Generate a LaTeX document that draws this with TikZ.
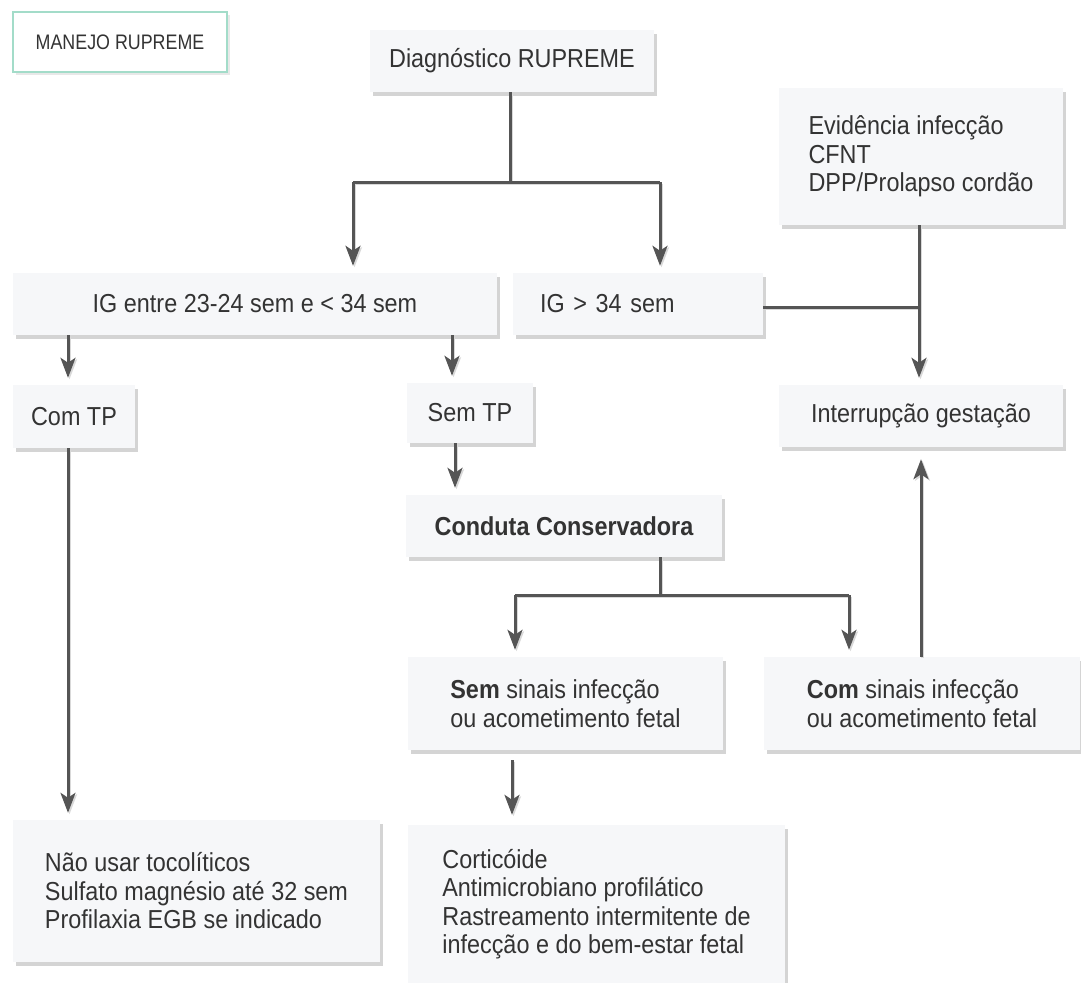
\documentclass[tikz,border=0pt]{standalone}
\usepackage{fontspec}
\setmainfont[FakeStretch=0.9]{Liberation Sans}
\newfontfamily\titlefont[FakeStretch=0.85]{Liberation Sans}
\usetikzlibrary{arrows.meta,shadows}
\definecolor{boxfill}{HTML}{F6F7F9}
\definecolor{txt}{HTML}{333333}
\definecolor{ln}{HTML}{555555}
\definecolor{teal}{HTML}{A3DCC9}
\tikzset{
  box/.style={fill=boxfill, draw=none, inner sep=0pt, text=txt,
    font=\fontsize{26}{28.5}\selectfont,
    drop shadow={shadow xshift=3pt, shadow yshift=-4pt, opacity=0.28, fill=black!60}},
  titlebox/.style={fill=white, draw=teal, line width=1.5pt, inner sep=0pt, text=txt,
    font=\titlefont\fontsize{21}{24}\selectfont,
    drop shadow={shadow xshift=3pt, shadow yshift=-3pt, opacity=0.15, fill=black!60}},
  conn/.style={draw=ln, line width=3pt,
    preaction={draw=black!15, line width=3pt, transform canvas={xshift=1.5pt, yshift=-1.5pt}}},
  arr/.style={conn, -{Stealth[length=20pt,width=15pt,inset=5pt]}, shorten >=7pt},
}
\begin{document}
\begin{tikzpicture}[x=1pt,y=-1pt]
\useasboundingbox (0,0) rectangle (1081,982);
% boxes
\node[titlebox, minimum width=214, minimum height=60] (title) at (120,42) {MANEJO RUPREME};
\node[box, minimum width=284, minimum height=62] (diag) at (512,61) {Diagnóstico RUPREME};
\node[box, minimum width=284, minimum height=137, align=left] (evid) at (921,156.5) {Evidência infecção\\CFNT\\DPP/Prolapso cordão};
\node[box, minimum width=484, minimum height=62] (igA) at (255,304) {IG entre 23-24 sem e < 34 sem};
\node[box, minimum width=250, minimum height=62, text width=250, align=left] (igB) at (638,304) {\hspace*{27pt}IG > 34 sem};
\node[box, minimum width=122, minimum height=63] (comtp) at (74,416.5) {Com TP};
\node[box, minimum width=126, minimum height=60] (semtp) at (470,413) {Sem TP};
\node[box, minimum width=284, minimum height=62] (interr) at (921,416) {Interrupção gestação};
\node[box, minimum width=316, minimum height=62] (conduta) at (564,526) {\bfseries Conduta Conservadora};
\node[box, minimum width=315, minimum height=93, align=left] (semsin) at (565.5,703.5) {\textbf{Sem} sinais infecção\\ou acometimento fetal};
\node[box, minimum width=316, minimum height=93, align=left] (comsin) at (922,703.5) {\textbf{Com} sinais infecção\\ou acometimento fetal};
\node[box, minimum width=367, minimum height=142, align=left] (naousar) at (196.5,891) {Não usar tocolíticos\\Sulfato magnésio até 32 sem\\Profilaxia EGB se indicado};
\node[box, minimum width=377, minimum height=158, align=left] (cort) at (596.5,904) {Corticóide\\Antimicrobiano profilático\\Rastreamento intermitente de\\infecção e do bem-estar fetal};
% junction coordinates
\coordinate (j1) at (510,182);
\coordinate (b1) at (353,182);
\coordinate (b2) at (660,182);
\coordinate (xa) at (68,0);
\coordinate (xb) at (452,0);
\coordinate (xc) at (455,0);
\coordinate (j2) at (660,595);
\coordinate (b3) at (515,595);
\coordinate (b4) at (849,595);
\coordinate (xd) at (512,0);
\coordinate (xe) at (921,0);
\coordinate (j3) at (919,307);
% connectors
\draw[conn] (j1 |- diag.south) -- (j1);
\draw[conn] (b1) -- (b2);
\draw[arr] (b1) -- (b1 |- igA.north);
\draw[arr] (b2) -- (b2 |- igB.north);
\draw[arr] (xa |- igA.south) -- (xa |- comtp.north);
\draw[arr] (xb |- igA.south) -- (xb |- semtp.north);
\draw[arr] (xa |- comtp.south) -- (xa |- naousar.north);
\draw[arr] (xc |- semtp.south) -- (xc |- conduta.north);
\draw[conn] (j2 |- conduta.south) -- (j2);
\draw[conn] (b3) -- (b4);
\draw[arr] (b3) -- (b3 |- semsin.north);
\draw[arr] (b4) -- (b4 |- comsin.north);
\draw[arr, shorten <=10pt, shorten >=10pt] (xd |- semsin.south) -- (xd |- cort.north);
\draw[arr, shorten >=12pt] (xe |- comsin.north) -- (xe |- interr.south);
\draw[conn] (igB.east |- j3) -- (j3);
\draw[arr] (j3 |- evid.south) -- (j3 |- interr.north);
\end{tikzpicture}
\end{document}
